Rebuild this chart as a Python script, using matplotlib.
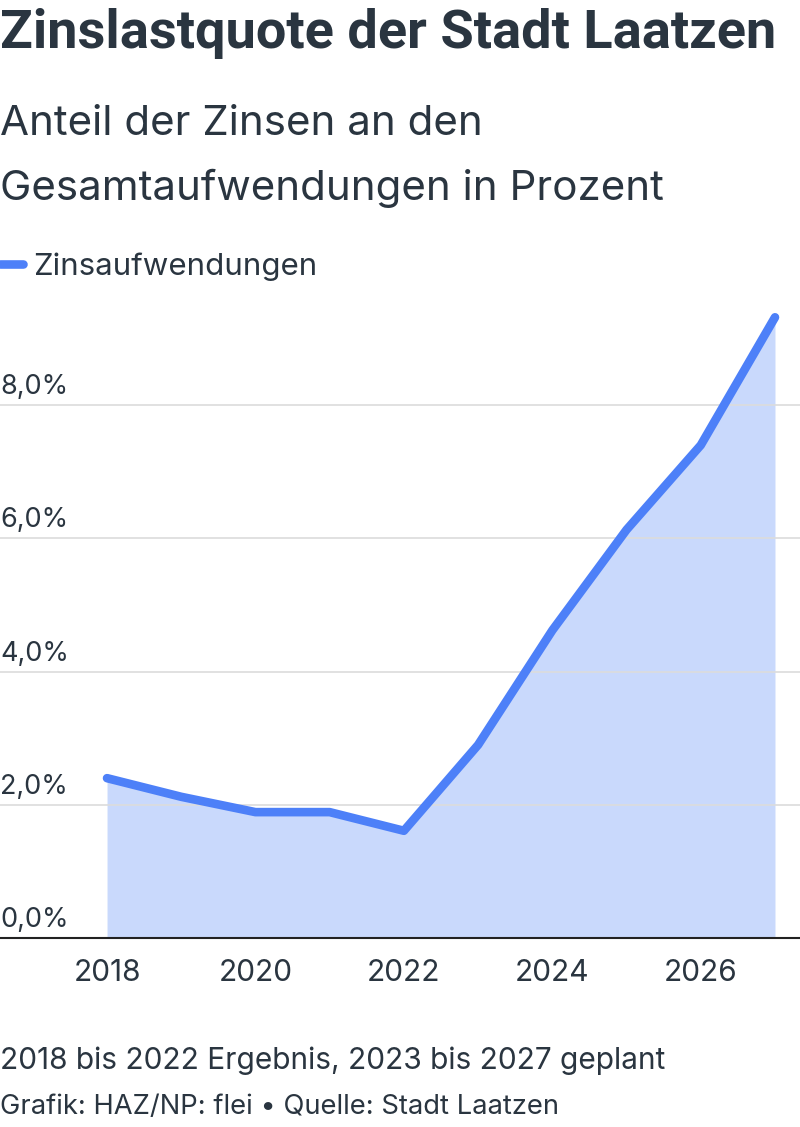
import matplotlib
matplotlib.use("Agg")
import matplotlib.pyplot as plt
from matplotlib.lines import Line2D

years = [2018, 2019, 2020, 2021, 2022, 2023, 2024, 2025, 2026, 2027]
values = [2.40, 2.12, 1.89, 1.89, 1.61, 2.90, 4.62, 6.13, 7.40, 9.32]
x_ticks = [2018, 2020, 2022, 2024, 2026]
y_ticks = [0, 2, 4, 6, 8]
y_labels = ["0,0%", "2,0%", "4,0%", "6,0%", "8,0%"]
series_name = "Zinsaufwendungen"
title = "Zinslastquote der Stadt Laatzen"
subtitle = "Anteil der Zinsen an den\nGesamtaufwendungen in Prozent"
note = "2018 bis 2022 Ergebnis, 2023 bis 2027 geplant"
source = "Grafik: HAZ/NP: flei \u2022 Quelle: Stadt Laatzen"

TEXT = "#2a3540"
LINE = "#4d80f8"
FILL = "#c9d9fc"
GRID = "#dcdcdc"

plt.rcParams['font.family'] = ['Inter', 'DejaVu Sans']

W, H = 800, 1127
fig = plt.figure(figsize=(W / 100, H / 100), dpi=100)

ax_bottom = 1 - 938 / H
ax_top = 1 - 300 / H
ax = fig.add_axes([0, ax_bottom, 1, ax_top - ax_bottom])

x0 = 2018 - 107 / 74.2
x1 = 2027 + 25 / 74.2
ax.set_xlim(x0, x1)
ax.set_ylim(0, (938 - 300) / 66.6)

ax.fill_between(years, values, 0, color=FILL, lw=0, zorder=1)
for t in y_ticks[1:]:
    ax.axhline(t, color=GRID, lw=1.2, zorder=2)
ax.plot(years, values, color=LINE, lw=6.2, solid_capstyle='round',
        solid_joinstyle='round', zorder=3)

for s in ['top', 'right', 'left']:
    ax.spines[s].set_visible(False)
ax.spines['bottom'].set_color('#222222')
ax.spines['bottom'].set_linewidth(1.5)
ax.spines['bottom'].set_zorder(4)

ax.set_yticks([])
for t, lab in zip(y_ticks, y_labels):
    ax.annotate(lab, xy=(0, t), xycoords=ax.get_yaxis_transform(),
                xytext=(0, 5), textcoords='offset pixels',
                ha='left', va='bottom', fontsize=19.5, color=TEXT)

ax.set_xticks(x_ticks)
ax.set_xticklabels([str(x) for x in x_ticks])
ax.tick_params(axis='x', length=0, pad=15, labelsize=21.5, labelcolor=TEXT)

fig.text(0.0, 1 - 48 / H, title, fontsize=39, fontweight='bold',
         family=['Roboto'], color=TEXT, ha='left', va='baseline')
fig.text(0.0, 1 - 135 / H, subtitle.split("\n")[0], fontsize=30.3,
         color=TEXT, ha='left', va='baseline')
fig.text(0.0, 1 - 200 / H, subtitle.split("\n")[1], fontsize=30.3,
         color=TEXT, ha='left', va='baseline')

handle = Line2D([0], [0], color=LINE, lw=6.2, solid_capstyle='round')
fig.legend(handles=[handle], labels=[series_name], loc='center left',
           bbox_to_anchor=(0.0, 1 - 267 / H), frameon=False,
           fontsize=22.5, handlelength=0.75, handletextpad=0.3,
           borderpad=0, borderaxespad=0, labelcolor=TEXT)

fig.text(0.0, 1 - 1069 / H, note, fontsize=21.5, color=TEXT,
         ha='left', va='baseline')
fig.text(0.0, 1 - 1114 / H, source, fontsize=19.7, color=TEXT,
         ha='left', va='baseline')

fig.savefig("out.png", dpi=100, facecolor='white')
